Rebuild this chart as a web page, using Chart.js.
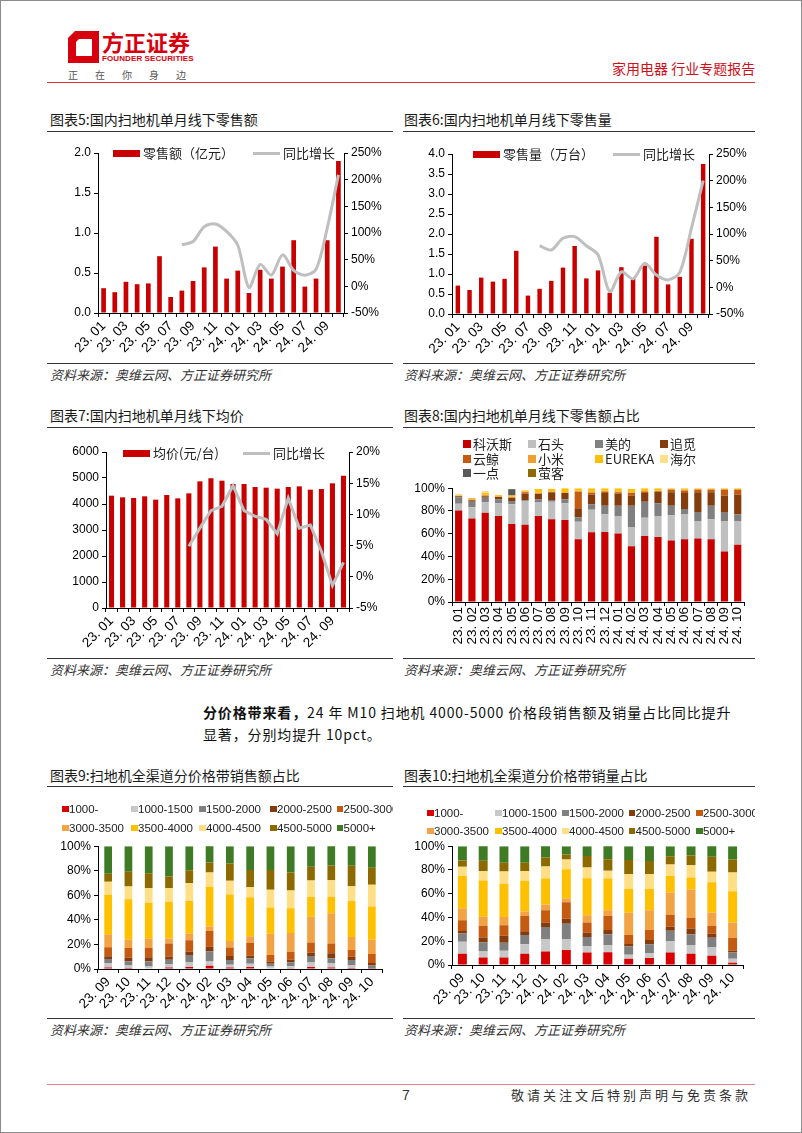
<!DOCTYPE html>
<html lang="zh-CN">
<head>
<meta charset="UTF-8">
<title>家用电器 行业专题报告</title>
<script src="https://cdn.jsdelivr.net/npm/chart.js@4.4.1/dist/chart.umd.min.js"></script>
<style>
  html, body { margin: 0; padding: 0; background: #fff; }
  #page { position: relative; width: 802px; height: 1133px; box-shadow: inset 0 0 0 1px #8c8c8c; overflow: hidden;
          font-family: "Noto Sans CJK SC", "Noto Sans", sans-serif; color: #222; }
  #page div { position: absolute; white-space: nowrap; }
  .title { font-size: 14px; line-height: 18px; color: #1a1a1a; }
  .rule { height: 0; border-top: 1.5px solid #333; }
  .src { font-size: 13px; line-height: 18px; font-style: italic; color: #333; }
  .lg { font-size: 13px; line-height: 16px; color: #222; }
</style>
</head>
<body>
<div id="page">
  <!-- header -->
  <div style="left:68px;top:31px;width:32px;height:32px">
    <svg width="32" height="32" viewBox="0 0 32 32">
      <polygon points="7,0 31,0 31,32 0,32 0,7" fill="#D7000F"/>
      <polygon points="11,8 24,8 24,25 8,25 8,11" fill="#fff"/>
      <polygon points="24,8 31,0 31,10 24,16" fill="#D7000F"/>
    </svg>
  </div>
  <div style="left:102px;top:27px;font-size:22px;line-height:28px;font-weight:bold;color:#D7000F">方正证券</div>
  <div style="left:102px;top:54px;font-family:'Liberation Sans';font-size:8px;line-height:10px;font-weight:bold;color:#D7000F;letter-spacing:0.1px">FOUNDER SECURITIES</div>
  <div style="left:68px;top:69px;font-size:10px;line-height:12px;color:#555;letter-spacing:17px">正在你身边</div>
  <div style="left:612px;top:59px;font-size:14px;line-height:18px;color:#D0101A">家用电器 行业专题报告</div>
  <div class="rule" style="left:47px;top:82px;width:708px;border-top:1.5px solid #D7303A"></div>

  <!-- row 1 -->
  <div class="title" style="left:50px;top:110px">图表5:国内扫地机单月线下零售额</div>
  <div class="rule" style="left:47px;top:131px;width:346px"></div>
  <div class="title" style="left:404px;top:110px">图表6:国内扫地机单月线下零售量</div>
  <div class="rule" style="left:403px;top:131px;width:352px"></div>
  <div style="left:47px;top:138px;width:346px;height:222px"><canvas id="c5"></canvas></div>
  <div style="left:403px;top:138px;width:352px;height:222px"><canvas id="c6"></canvas></div>
  <div class="rule" style="left:47px;top:363px;width:346px"></div>
  <div class="rule" style="left:403px;top:363px;width:352px"></div>
  <div class="src" style="left:50px;top:366px">资料来源：奥维云网、方正证券研究所</div>
  <div class="src" style="left:404px;top:366px">资料来源：奥维云网、方正证券研究所</div>

  <!-- row 2 -->
  <div class="title" style="left:50px;top:406px">图表7:国内扫地机单月线下均价</div>
  <div class="rule" style="left:47px;top:427px;width:346px"></div>
  <div class="title" style="left:404px;top:406px">图表8:国内扫地机单月线下零售额占比</div>
  <div class="rule" style="left:403px;top:427px;width:352px"></div>
  <div style="left:47px;top:436px;width:346px;height:220px"><canvas id="c7"></canvas></div>
  <div style="left:403px;top:478px;width:352px;height:178px"><canvas id="c8"></canvas></div>
  <div class="rule" style="left:47px;top:658px;width:346px"></div>
  <div class="rule" style="left:403px;top:658px;width:352px"></div>
  <div class="src" style="left:50px;top:661px">资料来源：奥维云网、方正证券研究所</div>
  <div class="src" style="left:404px;top:661px">资料来源：奥维云网、方正证券研究所</div>

  <!-- paragraph -->
  <div style="left:203px;top:701px;font-size:14px;line-height:22px;letter-spacing:0.87px;color:#111">
    <b>分价格带来看，</b>24 年 M10 扫地机 4000-5000 价格段销售额及销量占比同比提升<br>显著，分别均提升 10pct。
  </div>

  <!-- row 3 -->
  <div class="title" style="left:50px;top:766px">图表9:扫地机全渠道分价格带销售额占比</div>
  <div class="rule" style="left:47px;top:786px;width:346px"></div>
  <div class="title" style="left:404px;top:766px">图表10:扫地机全渠道分价格带销量占比</div>
  <div class="rule" style="left:403px;top:786px;width:352px"></div>
  <div style="left:47px;top:836px;width:346px;height:178px"><canvas id="c9"></canvas></div>
  <div style="left:403px;top:836px;width:352px;height:178px"><canvas id="c10"></canvas></div>
  <div class="rule" style="left:47px;top:1018px;width:346px"></div>
  <div class="rule" style="left:403px;top:1018px;width:352px"></div>
  <div class="src" style="left:50px;top:1021px">资料来源：奥维云网、方正证券研究所</div>
  <div class="src" style="left:404px;top:1021px">资料来源：奥维云网、方正证券研究所</div>

  <!-- footer -->
  <div class="rule" style="left:47px;top:1084px;width:708px;border-top:1px solid #E8838F"></div>
  <div style="left:402px;top:1087px;font-family:'Liberation Sans';font-size:14px;line-height:17px;color:#333">7</div>
  <div style="left:511px;top:1086px;font-size:13px;line-height:18px;letter-spacing:3px;color:#333">敬请关注文后特别声明与免责条款</div>
</div>

<script>
// ---- data ----
const months = ['23.01','23.02','23.03','23.04','23.05','23.06','23.07','23.08','23.09','23.10','23.11',
                '23.12','24.01','24.02','24.03','24.04','24.05','24.06','24.07','24.08','24.09','24.10']
const bandMonths = ['23.09','23.10','23.11','23.12','24.01','24.02','24.03','24.04','24.05','24.06','24.07',
                    '24.08','24.09','24.10']

// 图表5 零售额（亿元）/ 同比增长（%）
const salesAmt = [0.31,0.26,0.39,0.36,0.37,0.71,0.20,0.28,0.40,0.57,0.83,0.43,0.53,0.25,0.54,0.43,0.58,0.91,0.33,0.43,0.91,1.90]
const salesAmtYoy = [null,null,null,null,null,null,null,78,84,112,117,103,77,-2,41,21,59,30,21,32,109,209]

// 图表6 零售量（万台）/ 同比增长（%）
const salesVol = [0.71,0.60,0.91,0.81,0.88,1.58,0.46,0.63,0.83,1.16,1.70,0.89,1.09,0.53,1.17,0.88,1.21,1.93,0.74,0.93,1.88,3.75]
const salesVolYoy = [null,null,null,null,null,null,null,78,70,92,95,78,61,-8,29,16,45,23,14,28,111,200]

// 图表7 均价（元/台）/ 同比增长（%）
const avgPrice = [4320,4256,4230,4295,4167,4346,4218,4410,4872,4987,4897,4769,4769,4654,4628,4590,4654,4679,4551,4577,4795,5090]
const avgPriceYoy = [null,null,null,null,null,null,null,4.9,7.8,10.6,11.3,14.6,10.6,9.7,9.2,6.9,12.6,7.8,8.3,4.1,-1.4,2.3]

// 图表8 品牌零售额占比（%）
const brandNames = ['科沃斯','石头','美的','追觅','云鲸','小米','EUREKA','海尔','一点','萤客']
const brandColors = ['#C80000','#BFBFBF','#808080','#843C0C','#C55A11','#F0A030','#FFC000','#FFE08A','#595959','#8C6A00']
const ecovacs  = [80.4,73.4,78.4,75.6,68.6,67.8,75.6,72.8,72.0,55.2,61.3,61.6,60.2,49.0,58.0,57.1,54.0,55.2,55.7,55.2,44.3,50.4]
const roborock = [6.0,9.8,9.0,11.2,17.4,21.0,11.8,15.2,14.8,15.4,19.7,15.4,15.4,16.8,16.0,18.5,22.2,21.6,15.4,17.6,26.8,20.7]
const midea    = [5.5,4.8,4.2,3.4,2.8,0.6,2.8,1.6,3.4,3.6,5.0,7.6,9.0,18.8,14.2,11.2,8.4,5.0,7.9,11.8,7.9,5.7]
const dreame   = [1.0,1.4,1.4,2.0,2.8,5.8,5.0,6.8,5.6,8.2,8.4,11.2,10.6,9.0,7.6,10.4,11.8,14.0,17.4,11.8,14.6,17.6]
const narwal   = [0,0,0,0,0,1.2,0,0,0,14.2,1.4,1.4,1.2,2.2,1.2,0,2.2,2.2,2.2,2.2,5.0,4.2]
const xiaomi   = [0.5,0.8,1.4,0.7,1.2,0.6,0.8,0.8,0.6,1.4,1.4,0.6,0.6,0.6,0.6,0.6,0.6,0.6,0.6,0.6,0.6,0.6]
const eureka   = [0.5,0.5,1.4,0.8,0.8,1.0,3.2,2.2,3.6,2.0,2.8,2.2,3.0,3.0,2.4,2.2,0.8,1.4,0.8,0.8,0.8,0.8]
const haier    = [0.3,0.3,1.0,0,0,0.4,0.2,0.4,0.2,0,0,0,0,0,0,0.6,0,0,0,0,0,0]
const yidian   = [0,0,0,0,5.5,0,0,0,0,0,0,0,0,0,0,0,0,0,0,0,0,0]
const yingke   = [0.3,0.3,0.3,0.3,0.3,0,0,0,0,0,0,0,0,0,0,0,0,0,0,0,0,0]

// 图表9 / 图表10 价格带
const bandNames = ['1000-','1000-1500','1500-2000','2000-2500','2500-3000','3000-3500','3500-4000','4000-4500','4500-5000','5000+']
const bandColors = ['#D80000','#C8C8C8','#808080','#843C0C','#C55A11','#F2A444','#FFC000','#FFDF85','#8C6A00','#3F7A24']

// 销售额占比（%）
const amtBelow1000  = [1.2,0.8,0.5,1.3,1.6,2.7,1.3,1.6,0.5,0.6,1.6,1.3,0.8,0.2]
const amt1000to1500 = [3.7,2.0,1.6,2.7,3.7,3.5,2.1,2.7,1.6,1.6,3.7,3.5,2.1,0.3]
const amt1500to2000 = [3.2,3.6,4.0,3.5,6.1,8.0,4.0,4.5,2.1,3.2,5.3,4.0,4.5,2.4]
const amt2000to2500 = [2.2,3.0,3.5,2.7,2.7,4.0,3.2,1.9,1.9,2.1,2.7,4.0,2.7,1.9]
const amt2500to3000 = [7.4,7.8,7.7,10.6,9.3,12.8,6.9,10.6,5.3,6.6,8.2,8.0,5.3,7.4]
const amt3000to3500 = [10.5,6.6,7.4,4.0,5.3,3.7,5.3,5.3,17.3,15.2,21.0,24.5,10.6,11.7]
const amt3500to4000 = [32.2,33.0,29.3,30.0,26.6,32.2,37.8,31.9,21.3,20.2,16.2,13.6,29.3,26.9]
const amt4000to4500 = [10.6,10.3,12.0,11.2,14.6,11.7,11.2,8.0,14.6,14.4,13.3,13.3,12.0,17.8]
const amt4500to5000 = [6.6,12.0,12.0,9.3,10.6,8.2,14.1,14.1,16.0,14.6,11.2,12.0,16.8,13.8]
const amtAbove5000  = [22.4,20.9,22.0,24.7,19.4,13.3,14.1,19.4,19.4,21.5,16.8,16.0,16.0,17.6]

// 销量占比（%）
const volBelow1000  = [9.4,6.4,6.4,9.4,11.4,12.7,10.5,10.8,5.3,5.8,10.5,9.4,7.8,1.9]
const vol1000to1500 = [10.2,5.0,5.5,8.0,10.5,9.1,5.5,6.1,3.3,4.2,9.7,7.5,6.9,3.3]
const vol1500to2000 = [6.9,7.8,6.9,7.8,10.0,13.0,7.5,8.9,6.9,7.5,8.6,8.9,8.3,5.3]
const vol2000to2500 = [2.2,3.9,5.8,3.3,3.6,4.2,3.9,3.6,2.2,3.6,3.3,5.0,3.6,1.7]
const vol2500to3000 = [8.9,10.0,8.9,12.7,10.5,13.9,8.3,11.9,7.5,8.3,10.2,8.9,6.4,10.8]
const vol3000to3500 = [10.2,7.5,6.9,3.9,5.0,3.3,6.1,4.7,18.8,16.6,18.8,23.8,11.1,12.7]
const vol3500to4000 = [27.1,30.5,27.7,25.8,21.9,24.4,31.3,26.9,19.9,18.0,13.9,10.2,25.5,26.3]
const vol4000to4500 = [7.8,7.8,10.5,8.3,10.0,8.3,8.9,6.4,12.5,12.5,9.7,10.2,8.9,15.8]
const vol4500to5000 = [5.3,8.9,7.5,6.9,7.5,4.2,9.7,9.7,11.9,11.1,6.9,8.3,12.7,11.1]
const volAbove5000  = [11.9,12.5,13.9,13.9,9.7,6.9,8.3,11.1,11.6,12.5,8.3,7.8,8.9,11.1]

// ---- chart helpers ----
Chart.defaults.font.family = '"Liberation Sans", Arial, sans-serif'
Chart.defaults.font.size = 12
Chart.defaults.color = '#000'
Chart.defaults.animation = false

const page = document.getElementById('page')

// month labels are printed as "23. 01" in the report
function xAxis(height, rotation, every) {
  return {
    offset: true,
    grid: { offset: true, drawOnChartArea: false, drawTicks: true, tickLength: 4, color: '#000' },
    border: { color: '#000' },
    ticks: {
      autoSkip: false, minRotation: rotation, maxRotation: rotation, padding: 1, font: { size: 13.5 },
      callback: function(v, i) { return i % every === 0 ? this.getLabelForValue(v).replace('.', '. ') : '' }
    },
    afterFit: s => { s.height = height }
  }
}

function yAxis(position, width, min, max, step, fmt) {
  return {
    position: position, min: min, max: max,
    grid: { drawOnChartArea: false, drawTicks: true, tickLength: 4, color: '#000' },
    border: { color: '#000' },
    ticks: { stepSize: step, padding: 3, callback: fmt },
    afterFit: s => { s.width = width }
  }
}

function comboChart(id, barData, lineData, left, right, box, barPct, tension) {
  new Chart(document.getElementById(id), {
    data: {
      labels: months,
      datasets: [
        { type: 'line', data: lineData, borderColor: '#BFBFBF', borderWidth: 3, pointRadius: 0,
          tension: tension, yAxisID: 'y1', order: 0 },
        { type: 'bar', data: barData, backgroundColor: '#C80000', barPercentage: barPct,
          categoryPercentage: 1, yAxisID: 'y', order: 1 }
      ]
    },
    options: {
      responsive: true, maintainAspectRatio: false,
      layout: { padding: { top: box.top, left: 0, right: 0, bottom: 0 } },
      plugins: { legend: { display: false }, tooltip: { enabled: false } },
      scales: {
        x: xAxis(box.xh, 45, 2),
        y: yAxis('left', box.lw, left[0], left[1], left[2], left[3]),
        y1: yAxis('right', box.rw, right[0], right[1], right[2], right[3])
      }
    }
  })
}

function stackChart(id, labels, series, colors, box, barPct, rotation) {
  new Chart(document.getElementById(id), {
    type: 'bar',
    data: {
      labels: labels,
      datasets: series.map((d, i) => ({
        data: d, backgroundColor: colors[i], barPercentage: barPct, categoryPercentage: 1
      }))
    },
    options: {
      responsive: true, maintainAspectRatio: false,
      layout: { padding: { top: box.top, left: 0, right: box.right, bottom: 0 } },
      plugins: { legend: { display: false }, tooltip: { enabled: false } },
      scales: {
        x: Object.assign(xAxis(box.xh, rotation, 1), { stacked: true }),
        y: Object.assign(yAxis('left', box.lw, 0, 100, 20, v => v + '%'), { stacked: true })
      }
    }
  })
}

function el(style, text, cls) {
  const d = document.createElement('div')
  if (cls) d.className = cls
  d.style.cssText = style
  if (text) d.textContent = text
  return d
}

function comboLegend(y, barX, barLabel, lineX, lineLabel) {
  page.appendChild(el(`left:${barX}px;top:${y - 3.5}px;width:27px;height:7px;background:#C80000`))
  page.appendChild(el(`left:${barX + 30}px;top:${y - 8}px`, barLabel, 'lg'))
  page.appendChild(el(`left:${lineX}px;top:${y - 1.5}px;width:27px;height:3px;background:#BFBFBF`))
  page.appendChild(el(`left:${lineX + 30}px;top:${y - 8}px`, lineLabel, 'lg'))
}

function gridLegend(names, colors, cols, rows, sw, gap, fontSize, clipLeft, clipRight) {
  const wrap = el(`left:${clipLeft}px;top:0px;width:${clipRight - clipLeft}px;height:1133px;overflow:hidden`)
  names.forEach((n, i) => {
    const x = cols[i % cols.length] - clipLeft
    const y = rows[Math.floor(i / cols.length)]
    wrap.appendChild(el(`left:${x}px;top:${y - sw / 2}px;width:${sw}px;height:${sw}px;background:${colors[i]}`))
    wrap.appendChild(el(`left:${x + gap}px;top:${y - fontSize * 0.65}px;font-size:${fontSize}px;line-height:${fontSize * 1.3}px;color:#222;` +
      (/^[0-9]/.test(n) ? "font-family:'Liberation Sans'" : ''), n))
  })
  page.appendChild(wrap)
}

const pct = v => v + '%'

// 图表5
comboChart('c5', salesAmt, salesAmtYoy, [0, 2, 0.5, v => v.toFixed(1)], [-50, 250, 50, pct],
  { top: 15, lw: 51, rw: 49, xh: 47 }, 0.42, 0.3)
comboLegend(153, 113, '零售额（亿元）', 253, '同比增长')

// 图表6
comboChart('c6', salesVol, salesVolYoy, [0, 4, 0.5, v => v.toFixed(1)], [-50, 250, 50, pct],
  { top: 16, lw: 49, rw: 46, xh: 46 }, 0.38, 0.3)
comboLegend(154, 473, '零售量（万台）', 613, '同比增长')

// 图表7
comboChart('c7', avgPrice, avgPriceYoy, [0, 6000, 1000, v => v], [-5, 20, 5, pct],
  { top: 16, lw: 59, rw: 44, xh: 48 }, 0.46, 0)
comboLegend(453, 123, '均价(元/台)', 243, '同比增长')

// 图表8
stackChart('c8', months, [ecovacs, roborock, midea, dreame, narwal, xiaomi, eureka, haier, yidian, yingke],
  brandColors, { top: 5, lw: 49, right: 3, xh: 54 }, 0.54, 90)
gridLegend(brandNames, brandColors, [463, 528, 595, 660], [444, 459, 473], 7.5, 10, 13, 403, 755)

// 图表9
stackChart('c9', bandMonths,
  [amtBelow1000, amt1000to1500, amt1500to2000, amt2000to2500, amt2500to3000,
   amt3000to3500, amt3500to4000, amt4000to4500, amt4500to5000, amtAbove5000],
  bandColors, { top: 7, lw: 51, right: 11, xh: 45 }, 0.38, 45)
gridLegend(bandNames, bandColors, [62, 131, 199, 270, 336.5], [809, 828], 6.5, 7, 11.5, 47, 393)

// 图表10
stackChart('c10', bandMonths,
  [volBelow1000, vol1000to1500, vol1500to2000, vol2000to2500, vol2500to3000,
   vol3000to3500, vol3500to4000, vol4000to4500, vol4500to5000, volAbove5000],
  bandColors, { top: 9, lw: 49, right: 12, xh: 49 }, 0.43, 45)
gridLegend(bandNames, bandColors, [427, 495, 562, 628.5, 696], [813, 831], 6.5, 7, 11.5, 403, 755)
</script>
</body>
</html>
